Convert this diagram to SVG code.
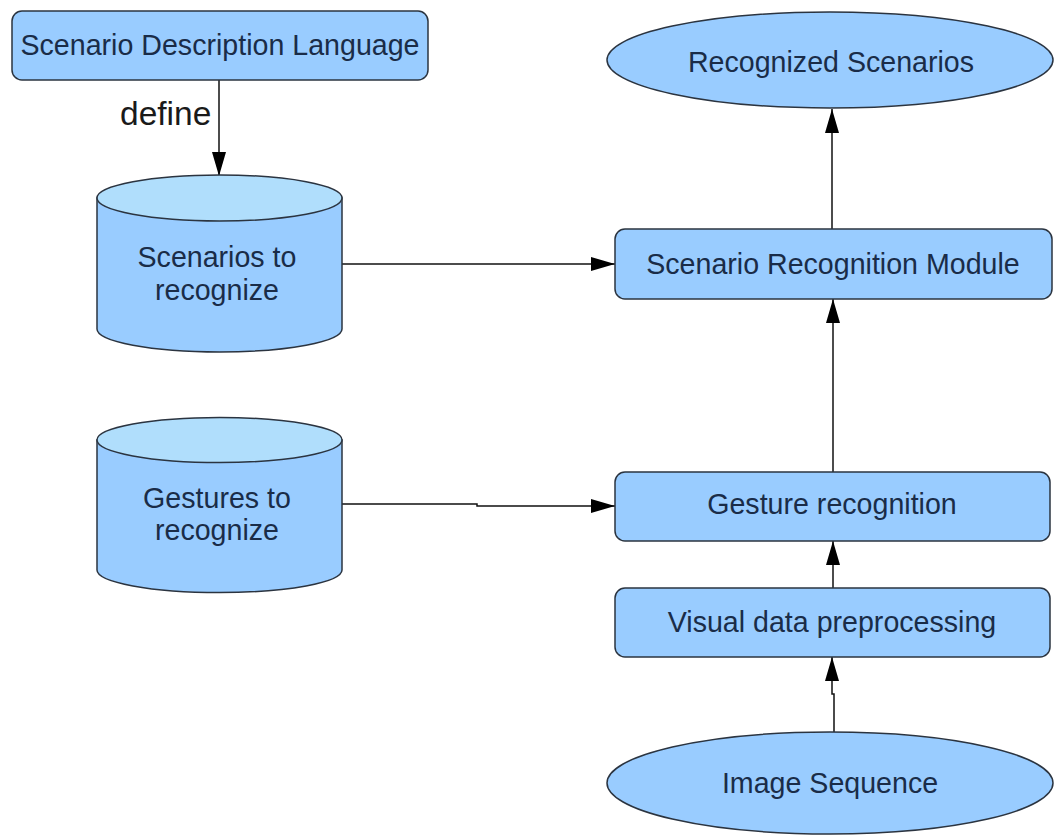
<svg xmlns="http://www.w3.org/2000/svg" width="1055" height="836" viewBox="0 0 1055 836">
  <style>
    .box { fill: #99ccff; stroke: #2b3440; stroke-width: 1.5; }
    .top { fill: #b0defc; stroke: #2b3440; stroke-width: 1.5; }
    .lbl { font-family: "Liberation Sans", Arial, sans-serif; font-size: 28.6px; fill: #1a2c48; text-anchor: middle; }
    .edge { fill: none; stroke: #111; stroke-width: 1.5; }
    .elbl { font-family: "Liberation Sans", Arial, sans-serif; font-size: 33.5px; fill: #1a1a1a; }
  </style>
  <defs>
    <marker id="arr" viewBox="0 0 24 14" refX="24" refY="7" markerWidth="24" markerHeight="14" markerUnits="userSpaceOnUse" orient="auto">
      <path d="M0,0 L24,7 L0,14 Z" fill="#000"/>
    </marker>
  </defs>
  <rect width="1055" height="836" fill="#ffffff"/>

  <g id="connectors">
    <line class="edge" x1="219" y1="80" x2="219" y2="176" marker-end="url(#arr)"/>
    <line class="edge" x1="342" y1="264" x2="615" y2="264" marker-end="url(#arr)"/>
    <polyline class="edge" points="342,504 477,504 477,506 615,506" marker-end="url(#arr)"/>
    <line class="edge" x1="832" y1="229" x2="832" y2="109" marker-end="url(#arr)"/>
    <line class="edge" x1="833" y1="472" x2="833" y2="299" marker-end="url(#arr)"/>
    <line class="edge" x1="833" y1="588" x2="833" y2="541" marker-end="url(#arr)"/>
    <polyline class="edge" points="834,732 834,694 832,694 832,657" marker-end="url(#arr)"/>
    <text class="elbl" x="120" y="125">define</text>
  </g>

  <g id="sdl">
    <rect class="box" x="12" y="11" width="416" height="69" rx="10"/>
    <text class="lbl" x="220" y="55">Scenario Description Language</text>
  </g>

  <g id="scenarios">
    <path class="box" d="M97,198 L97,329 A122.5,23 0 0 0 342,329 L342,198 Z"/>
    <ellipse class="top" cx="219.5" cy="198" rx="122.5" ry="23"/>
    <text class="lbl" x="217" y="267">Scenarios to</text>
    <text class="lbl" x="217" y="300">recognize</text>
  </g>

  <g id="gestures">
    <path class="box" d="M97,440 L97,570 A122.5,22.5 0 0 0 342,570 L342,440 Z"/>
    <ellipse class="top" cx="219.5" cy="440" rx="122.5" ry="22.5"/>
    <text class="lbl" x="217" y="508">Gestures to</text>
    <text class="lbl" x="217" y="540">recognize</text>
  </g>

  <g id="recognized">
    <ellipse class="box" cx="830" cy="60" rx="223" ry="48"/>
    <text class="lbl" x="831" y="72">Recognized Scenarios</text>
  </g>

  <g id="srm">
    <rect class="box" x="615" y="229" width="437" height="70" rx="10"/>
    <text class="lbl" x="833" y="274">Scenario Recognition Module</text>
  </g>

  <g id="gesture-recognition">
    <rect class="box" x="615" y="472" width="435" height="69" rx="10"/>
    <text class="lbl" x="832" y="514">Gesture recognition</text>
  </g>

  <g id="vdp">
    <rect class="box" x="615" y="588" width="435" height="69" rx="10"/>
    <text class="lbl" x="832" y="632">Visual data preprocessing</text>
  </g>

  <g id="image-sequence">
    <ellipse class="box" cx="830" cy="783" rx="223" ry="51"/>
    <text class="lbl" x="830" y="793">Image Sequence</text>
  </g>
</svg>
